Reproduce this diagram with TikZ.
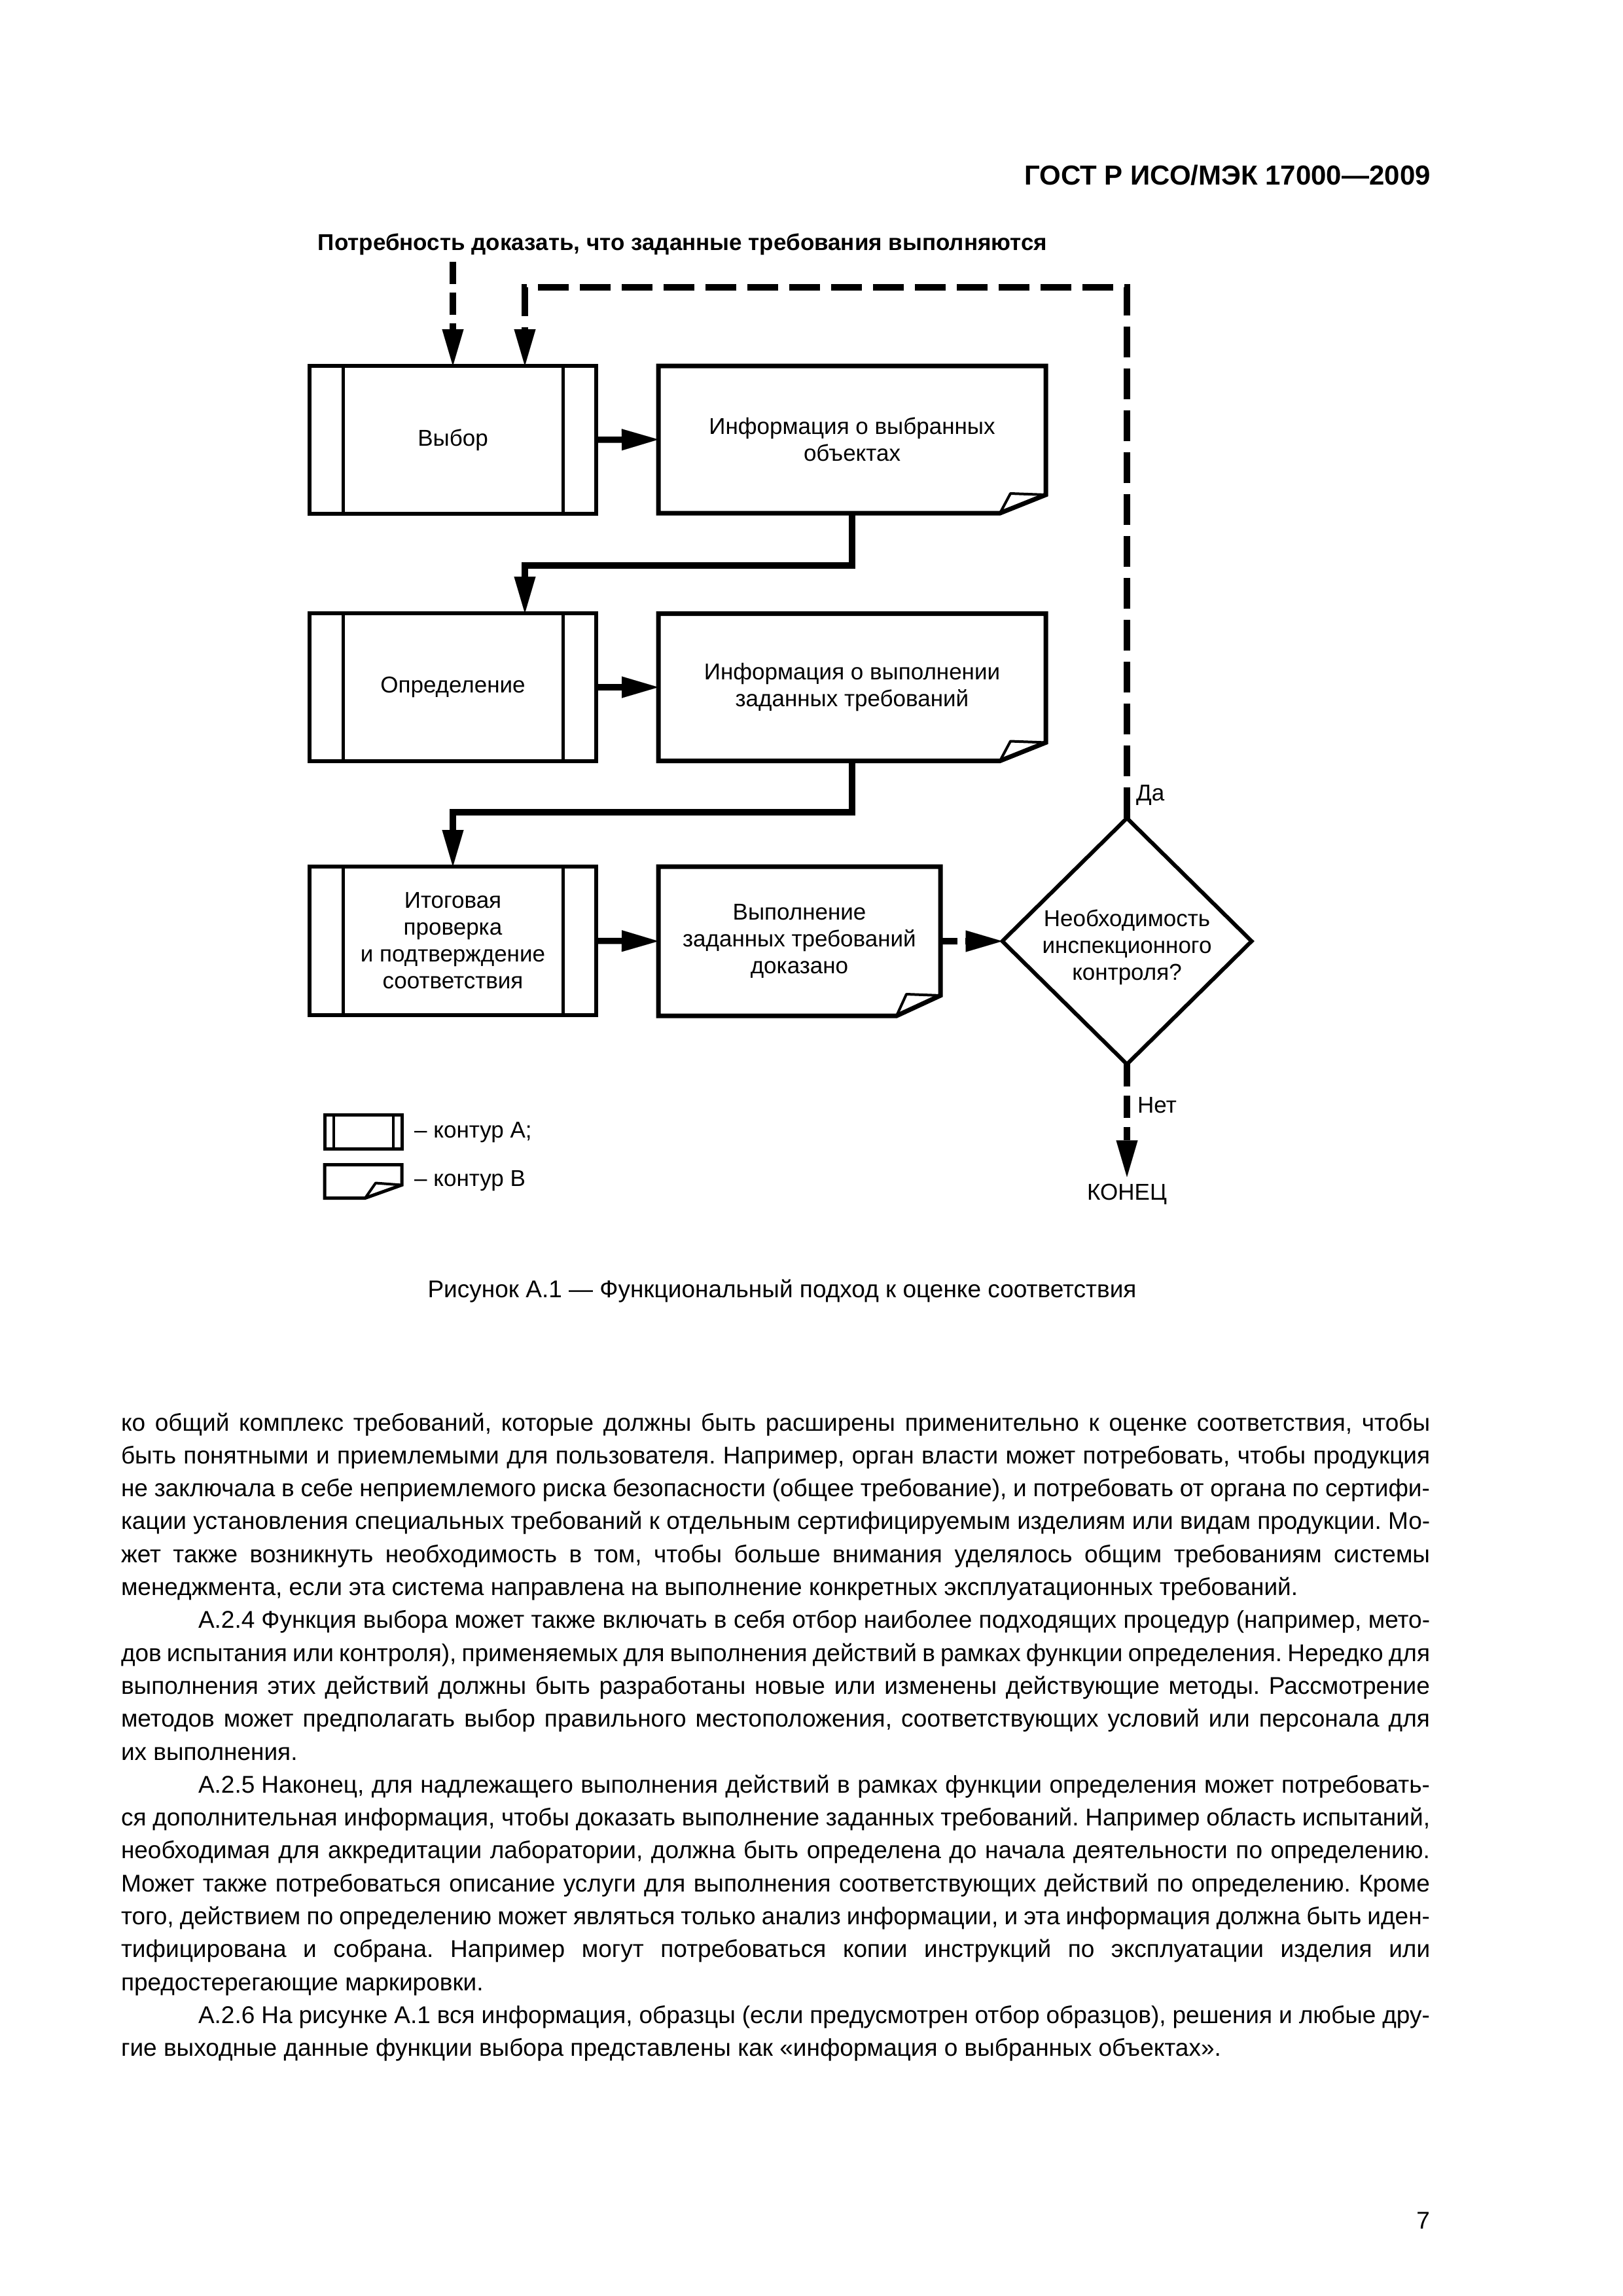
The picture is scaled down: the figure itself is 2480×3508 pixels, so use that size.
\documentclass[tikz,border=0pt]{standalone}
\usepackage{fontspec}
\setmainfont{Liberation Sans}
\usetikzlibrary{arrows.meta,calc,shapes.geometric}
\frenchspacing
\newcommand\docshape[6]{%
  \filldraw[fill=white, line width=4pt, line join=round]
    ($(#1.south east)+(-#2,0)$) -- ($(#1.south east)+(-#4,-#5)$) -- ($(#1.south east)+(0,-#3)$);
  \draw[line width=#6, line join=miter]
    (#1.north west) -- (#1.north east) -- ($(#1.south east)+(0,-#3)$) --
    ($(#1.south east)+(-#2,0)$) -- (#1.south west) -- cycle;}
\newcommand\bjust[2]{\node[bodyn] (L#1) at (185,{2186+50.3*#1}) {\makebox[2000pt][s]{#2}};}
\newcommand\bleft[2]{\node[bodyn] (L#1) at (185,{2186+50.3*#1}) {#2};}
\newcommand\ind{\hspace*{118pt}}
\begin{document}
\begin{tikzpicture}[x=1pt,y=-1pt,
  dfont/.style={font=\fontsize{35}{41}\selectfont},
  boxA/.style={draw, line width=6pt, minimum width=438pt, minimum height=226pt,
    inner sep=0pt, outer sep=0pt, align=center, dfont},
  infob/.style={minimum width=592pt, minimum height=225pt, inner sep=0pt,
    outer sep=0pt, align=center, dfont},
  conn/.style={line width=9.5pt, line join=miter,
    -{Triangle[length=56pt,width=33pt,line width=0.1pt]}},
  lbl/.style={dfont, anchor=base west, inner sep=0pt},
  bodyn/.style={anchor=base west, inner sep=0pt, outer sep=0pt,
    font=\fontsize{37}{44}\selectfont},
  innerl/.style={line width=5pt}
]
\fill[white] (0,0) rectangle (2480,3508);
\useasboundingbox (0,0) rectangle (2480,3508);

% header and title
\node[font=\bfseries\fontsize{42}{50}\selectfont, anchor=base east, inner sep=0pt] (hdr)
  at (2186,283) {ГОСТ Р ИСО/МЭК 17000—2009};
\node[font=\bfseries\fontsize{35}{41}\selectfont, anchor=base, inner sep=0pt] (title)
  at (1043,382) {Потребность доказать, что заданные требования выполняются};

% contour A boxes
\node[boxA] (A1) at (692,672) {Выбор};
\node[boxA] (A2) at (692,1050) {Определение};
\node[boxA, minimum height=227pt] (A3) at (692,1437.5)
  {Итоговая\\проверка\\и подтверждение\\соответствия};
\foreach \n in {A1,A2,A3}{
  \draw[innerl] ($(\n.north west)+(51,0)$) -- ($(\n.south west)+(51,0)$);
  \draw[innerl] ($(\n.north east)+(-51,0)$) -- ($(\n.south east)+(-51,0)$);
}

% contour B boxes
\node[infob] (I1) at (1302,671.5) {Информация о выбранных\\объектах};
\node[infob] (I2) at (1302,1050) {Информация о выполнении\\заданных требований};
\node[infob, minimum width=431pt, minimum height=228pt] (I3) at (1221.5,1438)
  {Выполнение\\заданных требований\\доказано};
\docshape{I1}{70}{28}{54}{30}{7pt}
\docshape{I2}{70}{28}{54}{30}{7pt}
\docshape{I3}{67}{31}{52}{33}{7pt}

% decision
\node[diamond, draw, line width=6pt, minimum width=381pt, minimum height=376pt,
  inner sep=0pt, outer sep=0pt] (D) at (1722,1438) {};
\node[dfont, align=center, inner sep=0pt] (Dt) at (1722,1447)
  {Необходимость\\инспекционного\\контроля?};

% connectors
\coordinate (s0) at (692,400);
\draw[conn, dash pattern=on 34pt off 13pt] (s0) -- (A1.north);
\draw[conn] (A1.east) -- (I1.west);
\coordinate (b1) at (802,864);
\draw[conn] (I1.south) |- (b1) -- (b1 |- A2.north);
\draw[conn] (A2.east) -- (I2.west);
\coordinate (b2) at (692,1241);
\draw[conn] (I2.south) |- (b2) -- (A3.north);
\draw[conn] (A3.east) -- (I3.west);
\draw[conn, dash pattern=on 26pt off 12pt] (I3.east) -- (D.west);
\coordinate (r1) at (1722,439);
\coordinate (r2) at (802,439);
\draw[conn, dash pattern=on 47pt off 17pt] (D.north) -- (r1) -- (r2) -- (r2 |- A1.north);
\node[dfont, anchor=base, inner sep=0pt] (end) at (1722,1833) {КОНЕЦ};
\coordinate (e0) at ($(end.north)+(0,-10)$);
\draw[conn, dash pattern=on 34pt off 14pt] (D.south) -- (e0);
\node[lbl] (yes) at (1736,1223) {Да};
\node[lbl] (no) at (1738,1700) {Нет};

% legend
\node[draw, line width=5pt, minimum width=118pt, minimum height=52pt,
  inner sep=0pt, outer sep=0pt] (LA) at (555,1729) {};
\draw[line width=4pt] ($(LA.north west)+(14,0)$) -- ($(LA.south west)+(14,0)$);
\draw[line width=4pt] ($(LA.north east)+(-13,0)$) -- ($(LA.south east)+(-13,0)$);
\node[minimum width=118pt, minimum height=51pt, inner sep=0pt, outer sep=0pt] (LB) at (555,1805) {};
\docshape{LB}{56}{20}{40}{23}{5pt}
\node[lbl] (LAt) at (633,1738) {– контур А;};
\node[lbl] (LBt) at (633,1812) {– контур В};

% caption
\node[font=\fontsize{37}{44}\selectfont, anchor=base, inner sep=0pt] (cap) at (1195,1982)
  {Рисунок А.1 — Функциональный подход к оценке соответствия};

% body text
\bjust{0}{ко общий комплекс требований, которые должны быть расширены применительно к оценке соответствия, чтобы}
\bjust{1}{быть понятными и приемлемыми для пользователя. Например, орган власти может потребовать, чтобы продукция}
\bjust{2}{не заключала в себе неприемлемого риска безопасности (общее требование), и потребовать от органа по сертифи-}
\bjust{3}{кации установления специальных требований к отдельным сертифицируемым изделиям или видам продукции. Мо-}
\bjust{4}{жет также возникнуть необходимость в том, чтобы больше внимания уделялось общим требованиям системы}
\bleft{5}{менеджмента, если эта система направлена на выполнение конкретных эксплуатационных требований.}
\bjust{6}{\ind А.2.4\hspace{10pt}Функция выбора может также включать в себя отбор наиболее подходящих процедур (например, мето-}
\bjust{7}{дов испытания или контроля), применяемых для выполнения действий в рамках функции определения. Нередко для}
\bjust{8}{выполнения этих действий должны быть разработаны новые или изменены действующие методы. Рассмотрение}
\bjust{9}{методов может предполагать выбор правильного местоположения, соответствующих условий или персонала для}
\bleft{10}{их выполнения.}
\bjust{11}{\ind А.2.5\hspace{10pt}Наконец, для надлежащего выполнения действий в рамках функции определения может потребовать-}
\bjust{12}{ся дополнительная информация, чтобы доказать выполнение заданных требований. Например область испытаний,}
\bjust{13}{необходимая для аккредитации лаборатории, должна быть определена до начала деятельности по определению.}
\bjust{14}{Может также потребоваться описание услуги для выполнения соответствующих действий по определению. Кроме}
\bjust{15}{того, действием по определению может являться только анализ информации, и эта информация должна быть иден-}
\bjust{16}{тифицирована и собрана. Например могут потребоваться копии инструкций по эксплуатации изделия или}
\bleft{17}{предостерегающие маркировки.}
\bjust{18}{\ind А.2.6\hspace{10pt}На рисунке А.1 вся информация, образцы (если предусмотрен отбор образцов), решения и любые дру-}
\bleft{19}{гие выходные данные функции выбора представлены как «информация о выбранных объектах».}

\node[font=\fontsize{37}{44}\selectfont, anchor=base east, inner sep=0pt] (pg) at (2185,3405) {7};
\end{tikzpicture}
\end{document}
